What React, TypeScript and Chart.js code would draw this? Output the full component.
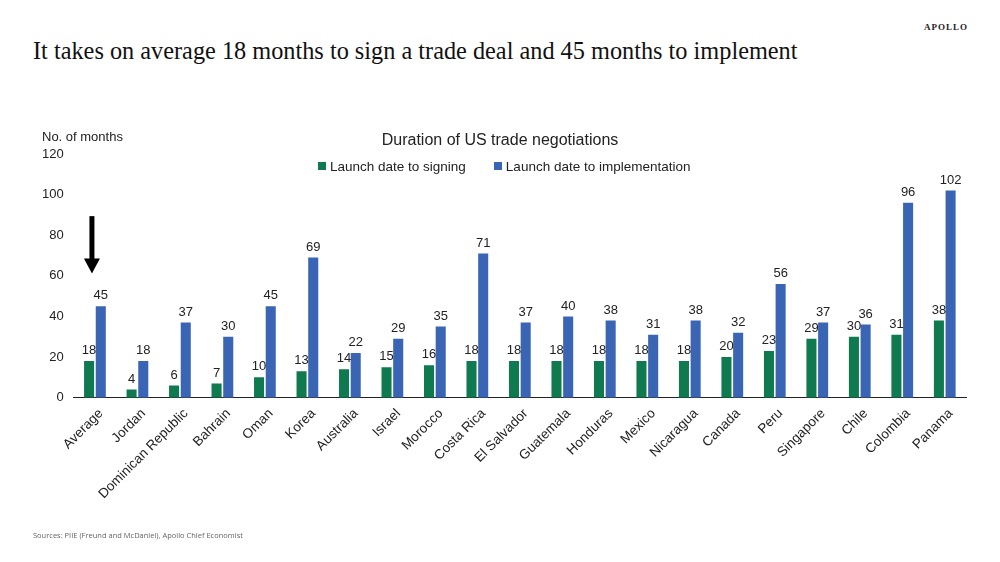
import React, { useEffect, useRef } from "react";
import { Chart, registerables } from "chart.js";

Chart.register(...registerables);

const countries = [
  "Average", "Jordan", "Dominican Republic", "Bahrain", "Oman", "Korea", "Australia",
  "Israel", "Morocco", "Costa Rica", "El Salvador", "Guatemala", "Honduras", "Mexico",
  "Nicaragua", "Canada", "Peru", "Singapore", "Chile", "Colombia", "Panama",
];
const toSigning = [18, 4, 6, 7, 10, 13, 14, 15, 16, 18, 18, 18, 18, 18, 18, 20, 23, 29, 30, 31, 38];
const toImplementation = [45, 18, 37, 30, 45, 69, 22, 29, 35, 71, 37, 40, 38, 31, 38, 32, 56, 37, 36, 96, 102];
const seriesNames = ["Launch date to signing", "Launch date to implementation"];

// Down arrow marking the average bars, in months on the value axis
const arrowTop = 89.4;
const arrowTip = 61.2;

const GREEN = "#0f7a4f";
const BLUE = "#3a65b4";
const SANS = "'Liberation Sans', Arial, sans-serif";

const valueLabels = {
  id: "valueLabels",
  afterDatasetsDraw(chart: any) {
    const { ctx } = chart;
    ctx.save();
    ctx.font = `13px ${SANS}`;
    ctx.fillStyle = "#222";
    ctx.textAlign = "center";
    ctx.textBaseline = "bottom";
    chart.data.datasets.forEach((ds: any, i: number) => {
      const meta = chart.getDatasetMeta(i);
      meta.data.forEach((bar: any, j: number) => {
        ctx.fillText(String(ds.data[j]), bar.x, bar.y - 4);
      });
    });
    ctx.restore();
  },
};

const extras = {
  id: "extras",
  afterDraw(chart: any) {
    const { ctx, scales } = chart;
    const x = scales.x.getPixelForValue(0) - 3;
    const yTop = scales.y.getPixelForValue(arrowTop);
    const yTip = scales.y.getPixelForValue(arrowTip);
    const headH = 15;
    ctx.save();
    ctx.fillStyle = "#000";
    ctx.fillRect(x - 2.5, yTop, 5, yTip - yTop - headH + 1);
    ctx.beginPath();
    ctx.moveTo(x - 8, yTip - headH);
    ctx.lineTo(x + 8, yTip - headH);
    ctx.lineTo(x, yTip);
    ctx.closePath();
    ctx.fill();
    ctx.restore();
  },
};

const legendItem = (color: string, text: string) => (
  <span style={{ display: "inline-flex", alignItems: "center", marginRight: 28 }}>
    <span style={{ display: "inline-block", width: 8, height: 8, background: color, marginRight: 4 }} />
    {text}
  </span>
);

export default function App() {
  const ref = useRef<HTMLCanvasElement>(null);

  useEffect(() => {
    if (!ref.current) return;
    const chart = new Chart(ref.current, {
      type: "bar",
      data: {
        labels: countries,
        datasets: [
          { label: seriesNames[0], data: toSigning, backgroundColor: GREEN },
          { label: seriesNames[1], data: toImplementation, backgroundColor: BLUE },
        ],
      },
      options: {
        animation: false,
        responsive: false,
        maintainAspectRatio: false,
        layout: { padding: { left: 32, right: 34, top: 154, bottom: 52 } },
        datasets: { bar: { categoryPercentage: 0.55, barPercentage: 0.86 } },
        plugins: {
          title: { display: false },
          legend: { display: false },
          tooltip: { enabled: false },
        },
        scales: {
          x: {
            grid: { display: false, drawTicks: false },
            border: { display: true, color: "#222", width: 1 },
            ticks: {
              color: "#222",
              font: { family: SANS, size: 13.5 },
              maxRotation: 45,
              minRotation: 45,
              autoSkip: false,
              padding: 8,
              labelOffset: 6,
            },
          },
          y: {
            min: 0,
            max: 120,
            grid: { display: false, drawTicks: false },
            border: { display: false },
            ticks: {
              stepSize: 20,
              color: "#222",
              font: { family: SANS, size: 13 },
              padding: 10,
            },
          },
        },
      },
      plugins: [valueLabels, extras],
    });
    return () => chart.destroy();
  }, []);

  return (
    <div style={{ position: "fixed", left: 0, top: 0, width: 1000, height: 562, background: "#fff", overflow: "hidden" }}>
      <div
        style={{
          position: "absolute",
          right: 32,
          top: 22,
          fontFamily: "'Liberation Serif', serif",
          fontSize: 9,
          fontWeight: "bold",
          letterSpacing: 1,
          color: "#222",
        }}
      >
        APOLLO
      </div>
      <div
        style={{
          position: "absolute",
          left: 33,
          top: 37,
          fontFamily: "'Liberation Serif', serif",
          fontSize: 24.3,
          color: "#111",
          whiteSpace: "nowrap",
        }}
      >
        It takes on average 18 months to sign a trade deal and 45 months to implement
      </div>
      <canvas ref={ref} width={1000} height={562} style={{ position: "absolute", left: 0, top: 0 }} />
      <div
        style={{
          position: "absolute",
          left: 42,
          top: 129,
          fontFamily: SANS,
          fontSize: 13,
          color: "#222",
          whiteSpace: "nowrap",
        }}
      >
        No. of months
      </div>
      <div
        style={{
          position: "absolute",
          left: 0,
          width: 1000,
          top: 131,
          textAlign: "center",
          fontFamily: SANS,
          fontSize: 16,
          color: "#222",
          whiteSpace: "nowrap",
        }}
      >
        Duration of US trade negotiations
      </div>
      <div
        style={{
          position: "absolute",
          left: 318,
          top: 158,
          fontFamily: SANS,
          fontSize: 13.5,
          color: "#222",
          whiteSpace: "nowrap",
        }}
      >
        {legendItem(GREEN, seriesNames[0])}
        {legendItem(BLUE, seriesNames[1])}
      </div>
      <div
        style={{
          position: "absolute",
          left: 33,
          top: 530,
          fontFamily: "'Open Sans', sans-serif",
          fontSize: 7.5,
          color: "#666",
          whiteSpace: "nowrap",
        }}
      >
        Sources: PIIE (Freund and McDaniel), Apollo Chief Economist
      </div>
    </div>
  );
}
